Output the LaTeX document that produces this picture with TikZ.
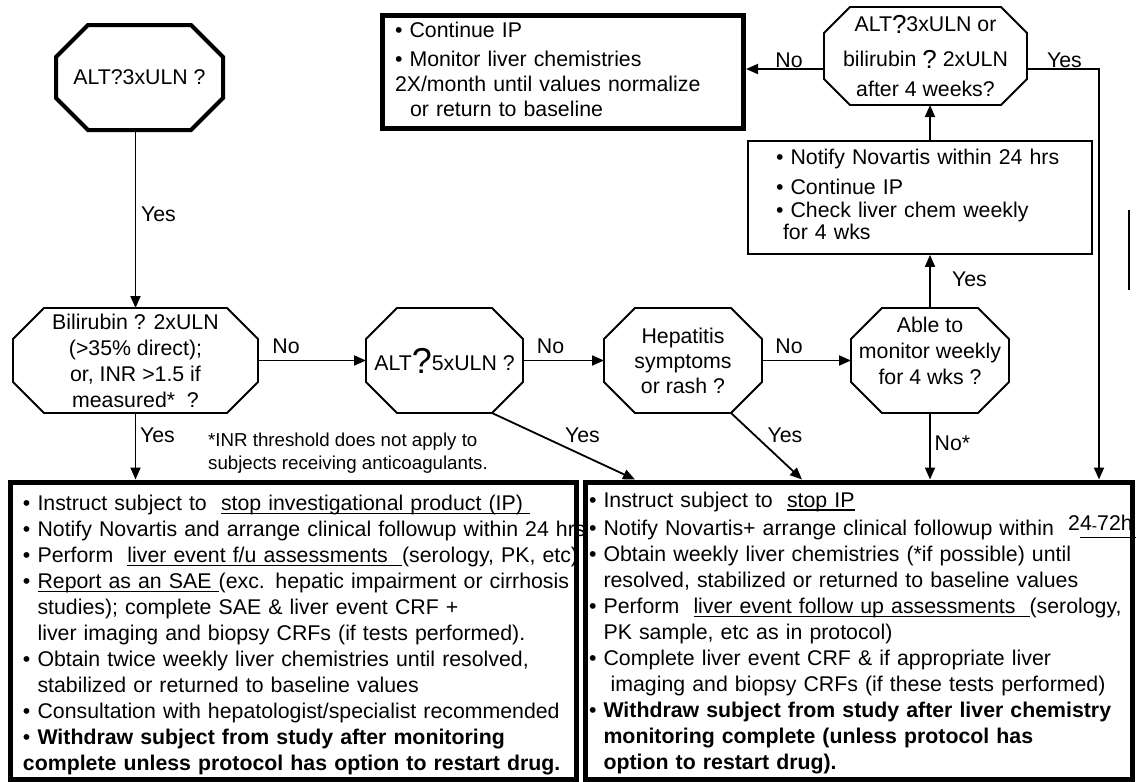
\documentclass[tikz,border=0pt]{standalone}
\usepackage{fontspec}
\setmainfont{Liberation Sans}
\usepackage{tikz}
\usetikzlibrary{arrows.meta, calc}

\newcommand{\bul}{\textbullet\ }
\newcommand{\bind}{\phantom{\textbullet\ }}
\newcommand{\uln}[1]{\setbox0=\hbox{#1}\rlap{\rule[-3.5pt]{\wd0}{1.4pt}}\box0}
\newcommand{\bigq}[2]{\raisebox{-#2pt}{\fontsize{#1}{#1}\selectfont ?}}
% octagon round a (borderless) node: name, corner cut
\newcommand{\drawoct}[3][]{%
  \draw[octline,#1] ($(#2.north west)+(#3,0)$) -- ($(#2.north east)+(-#3,0)$)
    -- ($(#2.north east)+(0,#3)$) -- ($(#2.south east)+(0,-#3)$)
    -- ($(#2.south east)+(-#3,0)$) -- ($(#2.south west)+(#3,0)$)
    -- ($(#2.south west)+(0,-#3)$) -- ($(#2.north west)+(0,#3)$) -- cycle;}

\tikzset{
  octnode/.style={inner sep=0pt, outer sep=0pt, align=center,
    font=\fontsize{21.3}{26}\selectfont},
  octline/.style={line width=1.8pt, line join=miter},
  thickbox/.style={draw, line width=5pt, inner xsep=12.5pt, inner ysep=0pt,
    align=left, font=\fontsize{21.3}{26}\selectfont},
  thinbox/.style={draw, line width=1.8pt, inner ysep=0pt, align=left},
  conn/.style={line width=1.8pt, -{Triangle[length=12pt,width=10pt]}},
  plainline/.style={line width=1.8pt},
  lbl/.style={inner sep=0pt, font=\fontsize{21.3}{26}\selectfont},
  note/.style={inner sep=0pt, align=left, font=\fontsize{18.7}{23}\selectfont}
}

\begin{document}
\begin{tikzpicture}[x=1pt, y=-1pt]
  \useasboundingbox (0,0) rectangle (1136,782);

  % Decisions
  \node[octnode, minimum width=167pt, minimum height=105pt] (altthree) at (139.5,77.5)
       {ALT?3xULN ?};
  \drawoct[line width=4pt]{altthree}{32}

  \node[octnode, minimum width=203pt, minimum height=98pt,
        font=\fontsize{21.3}{30}\selectfont] (recheck) at (925.5,56)
       {ALT\bigq{26}{2}3xULN or\\[5pt]bilirubin \bigq{26}{2} 2xULN\\after 4 weeks?};
  \drawoct[line width=1.8pt]{recheck}{26}

  \node[octnode, minimum width=245pt, minimum height=105pt] (bili) at (135.5,360.5)
       {Bilirubin ? 2xULN\\(>35\% direct);\\or, INR >1.5 if\\measured*\ \ ?};
  \drawoct{bili}{31}

  \node[octnode, minimum width=157pt, minimum height=105pt] (altfive) at (444.5,360.5)
       {ALT\bigq{36}{3}5xULN ?};
  \drawoct{altfive}{31}

  \node[octnode, minimum width=158pt, minimum height=105pt,
        font=\fontsize{21.3}{25}\selectfont] (hepat) at (683,360.5)
       {Hepatitis\\symptoms\\or rash ?};
  \drawoct{hepat}{31}

  \node[octnode, minimum width=158pt, minimum height=105pt] (weekly) at (930,360.5)
       {Able to\\monitor weekly\\for 4 wks ?\\[-6pt]\mbox{}};
  \drawoct{weekly}{31}

  % Action boxes
  \node[thickbox, minimum width=361pt, minimum height=113pt, text width=336pt,
        font=\fontsize{21.3}{25}\selectfont] (contip) at (563,72)
       {\begin{tabular}{@{}l@{}}
        \bul Continue IP\\[4pt]
        \bul Monitor liver chemistries\\
        2X/month until values normalize\\
        \hspace{15pt}or return to baseline
        \end{tabular}};

  \node[thinbox, minimum width=344pt, minimum height=113pt, text width=288pt,
        inner xsep=28pt, font=\fontsize{21.3}{22}\selectfont] (notify) at (920,197.5)
       {\begin{tabular}{@{}l@{}}
        \bul Notify Novartis within 24 hrs\\[8pt]
        \bul Continue IP\\[1pt]
        \bul Check liver chem weekly\\
        \hspace{7pt}for 4 wks
        \end{tabular}};

  \node[thickbox, minimum width=565.5pt, minimum height=297.5pt, text width=540.5pt]
       (stopall) at (293.25,630.75)
       {\begin{tabular}{@{}l@{}}
        \bul Instruct subject to\ \ \uln{stop investigational product (IP)\ }\rule{0pt}{27.2pt}\\
        \bul Notify Novartis and arrange clinical followup within 24 hrs\\
        \bul Perform\ \ \uln{liver event f/u assessments\ \ }(serology, PK, etc)\\
        \bul \uln{Report as an SAE\ }(exc. hepatic impairment or cirrhosis\\
        \bind studies); complete SAE \& liver event CRF +\\
        \bind liver imaging and biopsy CRFs (if tests performed).\\
        \bul Obtain twice weekly liver chemistries until resolved,\\
        \bind stabilized or returned to baseline values\\
        \bul Consultation with hepatologist/specialist recommended\\
        \bul\textbf{Withdraw subject from study after monitoring}\\
        \textbf{complete unless protocol has option to restart drug.}
        \end{tabular}};

  \node[thickbox, minimum width=547.5pt, minimum height=297.5pt, text width=539.5pt,
        inner xsep=4pt] (stopip) at (858.75,630.75)
       {\begin{tabular}{@{}l@{}}
        \bul Instruct subject to\ \ \uln{stop IP}\rule{0pt}{23.2pt}\\
        \bul Notify Novartis+ arrange clinical followup within\ \
          \raisebox{5pt}{2\rlap{\rule[-7.5pt]{58pt}{1.4pt}}4\raisebox{-1pt}{\fontsize{16}{16}\selectfont -}72h}\\
        \bul Obtain weekly liver chemistries (*if possible) until\\
        \bind resolved, stabilized or returned to baseline values\\
        \bul Perform\ \ \uln{liver event follow up assessments\ \ }(serology,\\
        \bind PK sample, etc as in protocol)\\
        \bul Complete liver event CRF \& if appropriate liver\\
        \bind\ imaging and biopsy CRFs (if these tests performed)\\
        \bul\textbf{Withdraw subject from study after liver chemistry}\\
        \bind\textbf{monitoring complete (unless protocol has}\\
        \bind\textbf{option to restart drug).}
        \end{tabular}};

  % Footnote
  \node[note, anchor=west] (inrnote) at (208,453.5)
       {*INR threshold does not apply to\\subjects receiving anticoagulants.};

  % Connectors
  \draw[conn] (bili.north |- altthree.south) -- (bili.north);
  \node[lbl] (yesA) at (158.5,214) {Yes};

  \draw[conn] (bili.east) -- (altfive.west);
  \node[lbl] (noB) at (286,346.5) {No};
  \draw[conn] (altfive.east) -- (hepat.west);
  \node[lbl] (noD) at (550.5,346.5) {No};
  \draw[conn] (hepat.east) -- (weekly.west);
  \node[lbl] (noE) at (789,346.5) {No};

  \draw[conn] (weekly.north) -- (weekly.north |- notify.south);
  \node[lbl] (yesF) at (969.5,279.5) {Yes};
  \draw[conn] (weekly.north |- notify.north) -- (weekly.north |- recheck.south);

  \coordinate (recno) at ([yshift=-13pt]recheck.west);
  \draw[conn] (recno) -- (recno -| contip.east);
  \node[lbl] (noC) at (789,60) {No};
  \coordinate (recyes) at ([yshift=-13pt]recheck.east);
  \draw[conn] (recyes) -| ([xshift=-36pt]stopip.north east);
  \node[lbl] (yesC) at (1064.5,60) {Yes};

  \draw[conn] (bili.south) -- (bili.south |- stopall.north);
  \node[lbl] (yesB) at (157.5,435) {Yes};

  \draw[conn] ([xshift=-31pt]altfive.south east) -- ([xshift=52.5pt]stopip.north west);
  \node[lbl] (yesD) at (582.5,435) {Yes};
  \draw[conn] ([xshift=-31pt]hepat.south east) -- ([xshift=219.5pt]stopip.north west);
  \node[lbl] (yesE) at (785,435) {Yes};
  \draw[conn] (weekly.south) -- (weekly.south |- stopip.north);
  \node[lbl] (noF) at (952.5,443.5) {No*};

  % stray mark at right
  \draw[plainline] (1129,210) -- (1129,290);
\end{tikzpicture}
\end{document}
